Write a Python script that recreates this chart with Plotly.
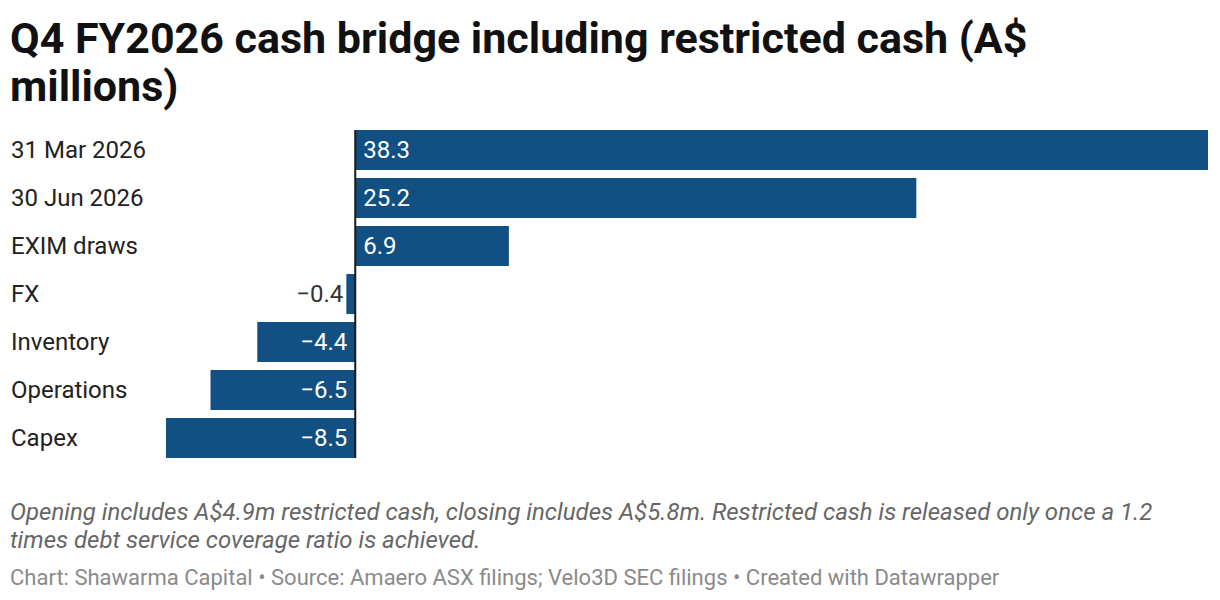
import plotly.graph_objects as go

categories = ["31 Mar 2026", "30 Jun 2026", "EXIM draws", "FX", "Inventory", "Operations", "Capex"]
values = [38.3, 25.2, 6.9, -0.4, -4.4, -6.5, -8.5]
labels = ["38.3", "25.2", "6.9", "\u22120.4", "\u22124.4", "\u22126.5", "\u22128.5"]

BAR = "#124f82"
FONT = "Roboto"

W, H = 1220, 600
ml, mr, mt, mb = 166, 12, 126, 138
pw = W - ml - mr
ph = H - mt - mb

positions = ["outside" if abs(v) < 1 else "inside" for v in values]
shown = []
for v, t, p in zip(values, labels, positions):
    if p == "inside":
        shown.append(("\u2009" + t) if v > 0 else (t + "\u2009"))
    else:
        shown.append(t)

fig = go.Figure(go.Bar(
    x=values, y=categories, orientation="h",
    marker=dict(color=BAR, line=dict(width=0)),
    text=shown, textposition=positions, insidetextanchor="start",
    outsidetextfont=dict(family=FONT, size=24, color="#333333"),
    insidetextfont=dict(family=FONT, size=24, color="white"),
    textangle=0, constraintext="none",
    cliponaxis=False, hoverinfo="skip",
))

fig.update_layout(
    width=W, height=H,
    margin=dict(l=ml, r=mr, t=mt, b=mb),
    paper_bgcolor="white", plot_bgcolor="white",
    bargap=1/6, showlegend=False,
    xaxis=dict(range=[min(values), max(values)], visible=False, fixedrange=True),
    yaxis=dict(autorange="reversed", showticklabels=False, showgrid=False,
               zeroline=False, showline=False, ticks="", fixedrange=True),
    font=dict(family=FONT),
)

fig.add_shape(type="line", xref="x", yref="y", x0=0, x1=0, y0=-0.4167, y1=6.4167,
              line=dict(color="#1a1a1a", width=2))

def py(ypix):
    return 1 - (ypix - mt) / ph

def px(xpix):
    return (xpix - ml) / pw

for c in categories:
    fig.add_annotation(xref="paper", yref="y", x=px(9), y=c, text=c,
                       showarrow=False, xanchor="left", yanchor="middle",
                       font=dict(family=FONT, size=24, color="#222222"))

title_lines = ["Q4 FY2026 cash bridge including restricted cash (A$", "millions)"]
for t, yc in zip(title_lines, [38, 86]):
    fig.add_annotation(xref="paper", yref="paper", x=px(8), y=py(yc),
                       text="<b>" + t + "</b>",
                       showarrow=False, xanchor="left", yanchor="middle", align="left",
                       font=dict(family=FONT, size=43, color="#111111"))

note_lines = ["Opening includes A$4.9m restricted cash, closing includes A$5.8m. Restricted cash is released only once a 1.2",
              "times debt service coverage ratio is achieved."]
for t, yc in zip(note_lines, [512, 540]):
    fig.add_annotation(xref="paper", yref="paper", x=px(8), y=py(yc),
                       text="<i>" + t + "</i>",
                       showarrow=False, xanchor="left", yanchor="middle", align="left",
                       font=dict(family=FONT, size=24, color="#666666"))

fig.add_annotation(xref="paper", yref="paper", x=px(8), y=py(577),
                   text="Chart: Shawarma Capital \u2022 Source: Amaero ASX filings; Velo3D SEC filings \u2022 Created with Datawrapper",
                   showarrow=False, xanchor="left", yanchor="middle", align="left",
                   font=dict(family=FONT, size=22, color="#8a8a8a"))

fig.write_html("out.html", config={"displayModeBar": False, "staticPlot": True},
               post_script="document.body.style.margin='0';document.body.style.overflow='hidden';")
